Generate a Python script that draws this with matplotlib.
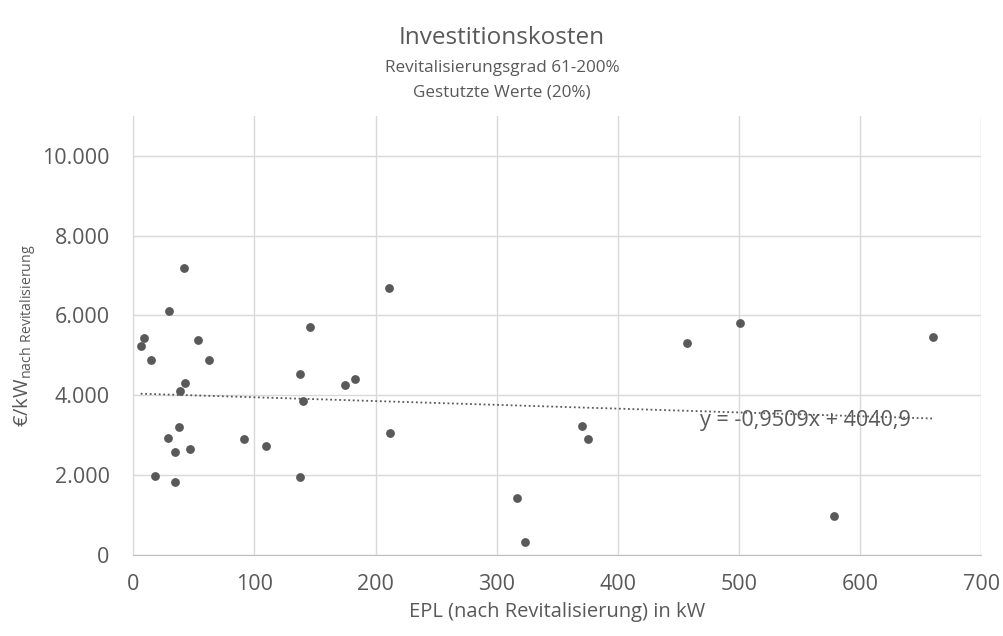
import matplotlib
matplotlib.use('Agg')
import matplotlib.pyplot as plt
from matplotlib.ticker import FuncFormatter, MultipleLocator
import numpy as np

plt.rcParams['font.family'] = ['Open Sans', 'DejaVu Sans']

# EPL nach Revitalisierung (kW) und Investitionskosten (EUR/kW)
epl = [41.6, 29.8, 8.6, 6.1, 14.6, 53.2, 62.6, 42.5, 38.8, 37.5, 28.7, 34.7,
       46.6, 17.9, 34.7, 91.7, 109.7, 145.8, 137.8, 175.0, 183.0, 139.7, 137.8,
       211.0, 212.2, 317.1, 323.5, 370.3, 375.5, 457.4, 500.6, 660.0, 578.4]
kosten = [7197, 6103, 5441, 5224, 4873, 5391, 4873, 4312, 4095, 3200, 2931, 2580,
          2640, 1978, 1811, 2891, 2723, 5717, 4530, 4253, 4412, 3844, 1945,
          6695, 3041, 1426, 314, 3225, 2891, 5307, 5809, 5458, 966]

# lineare Trendlinie (aus Excel)
slope = -0.9509
intercept = 4040.9

grau = '#595959'

fig = plt.figure(figsize=(10.04, 6.36), dpi=100)
ax = fig.add_axes([0.1328, 0.128, 0.8445, 0.6896])

ax.scatter(epl, kosten, s=40, color=grau, zorder=3, linewidths=0)

xt = np.array([min(epl), max(epl)])
ax.plot(xt, slope * xt + intercept, color=grau, lw=1.3, ls=(0, (1, 1.5)), zorder=2)
ax.text(468, 3375, 'y = -0,9509x + 4040,9', color=grau, fontsize=15.5,
        ha='left', va='center', zorder=4)

ax.set_xlim(0, 700)
ax.set_ylim(0, 11000)
ax.xaxis.set_major_locator(MultipleLocator(100))
ax.yaxis.set_major_locator(MultipleLocator(2000))
ax.yaxis.set_major_formatter(FuncFormatter(lambda v, p: f'{int(v):,}'.replace(',', '.')))

ax.grid(True, color='#d9d9d9', lw=1)
ax.set_axisbelow(True)
for s in ['top', 'right']:
    ax.spines[s].set_visible(False)
ax.spines['left'].set_color('#d9d9d9')
ax.spines['bottom'].set_color('#bfbfbf')
ax.tick_params(length=0, labelsize=15.5, colors=grau)
ax.tick_params(axis='y', pad=17)
ax.tick_params(axis='x', pad=14)

ax.set_xlabel('EPL (nach Revitalisierung) in kW', fontsize=14.5, color=grau, labelpad=5)
ax.set_ylabel(r'€/kW$_{\mathregular{nach\ Revitalisierung}}$', fontsize=14.5, color=grau)
ax.yaxis.set_label_coords(-0.112, 0.5)

fig.text(0.5, 0.94, 'Investitionskosten', ha='center', va='center', fontsize=17.5, color=grau)
fig.text(0.5, 0.893, 'Revitalisierungsgrad 61-200%', ha='center', va='center', fontsize=12.3, color=grau)
fig.text(0.5, 0.855, 'Gestutzte Werte (20%)', ha='center', va='center', fontsize=12.3, color=grau)

fig.savefig('out.png', dpi=100, facecolor='white')
